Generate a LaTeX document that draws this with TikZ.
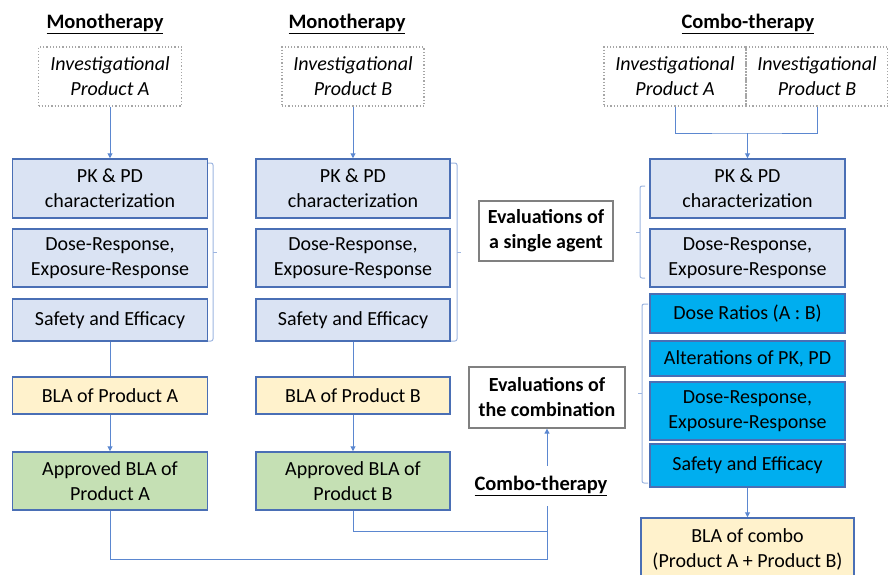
\documentclass[tikz,border=0pt]{standalone}
\usepackage{fontspec}
\setmainfont{Carlito}
\usetikzlibrary{arrows.meta}
\definecolor{bdr}{HTML}{4A6FB5}
\definecolor{lblue}{HTML}{DAE3F3}
\definecolor{cyanb}{HTML}{00AEEF}
\definecolor{yel}{HTML}{FFF2CC}
\definecolor{grn}{HTML}{C5E0B4}
\definecolor{conn}{HTML}{5B87D0}
\definecolor{brk}{HTML}{9DB5E0}
\tikzset{
  every node/.style={font=\fontsize{20}{25}\selectfont, align=center, inner sep=0pt},
  box/.style={draw=bdr, line width=1.5pt},
  pale/.style={box, fill=lblue},
  bright/.style={box, fill=cyanb},
  yelbox/.style={box, fill=yel},
  grnbox/.style={box, fill=grn},
  invbox/.style={draw=gray!70, dotted, line width=1.2pt, font=\fontsize{20}{25}\selectfont\itshape},
  evalbox/.style={draw=gray, line width=1.3pt, font=\fontsize{20}{25}\selectfont\bfseries},
  ttl/.style={font=\fontsize{20.5}{25}\selectfont\bfseries},
  conline/.style={draw=conn, line width=1pt},
  arr/.style={conline, -{Triangle[length=5pt,width=5pt]}},
  brace/.style={draw=brk, line width=1pt, rounded corners=2pt}
}
\begin{document}
\begin{tikzpicture}[x=1pt,y=-1pt]
\useasboundingbox (0,0) rectangle (888,574);
% titles
\node[ttl] (t1) at (105,24) {\underline{Monotherapy}};
\node[ttl] (t2) at (347,24) {\underline{Monotherapy}};
\node[ttl] (t3) at (748,24) {\underline{Combo-therapy}};
% investigational
\node[invbox, minimum width=143pt, minimum height=59pt] (invA) at (110,76.5) {Investigational\\Product A};
\node[invbox, minimum width=142pt, minimum height=59pt] (invB) at (353,76.5) {Investigational\\Product B};
\node[invbox, minimum width=142pt, minimum height=59pt] (cinvA) at (675,76.5) {Investigational\\Product A};
\node[invbox, minimum width=142pt, minimum height=59pt] (cinvB) at (817,76.5) {Investigational\\Product B};
% column A
\node[pale, minimum width=195pt, minimum height=59pt] (pkA) at (110,188.5) {PK \& PD\\characterization};
\node[pale, minimum width=195pt, minimum height=58pt] (drA) at (110,258) {Dose-Response,\\Exposure-Response};
\node[pale, minimum width=195pt, minimum height=42pt] (sfA) at (110,320) {Safety and Efficacy};
\node[yelbox, minimum width=195pt, minimum height=37pt] (blaA) at (110,395.5) {BLA of Product A};
\node[grnbox, minimum width=195pt, minimum height=58pt] (apA) at (110,481) {Approved BLA of\\Product A};
% column B
\node[pale, minimum width=194pt, minimum height=59pt] (pkB) at (353,188.5) {PK \& PD\\characterization};
\node[pale, minimum width=194pt, minimum height=58pt] (drB) at (353,258) {Dose-Response,\\Exposure-Response};
\node[pale, minimum width=194pt, minimum height=42pt] (sfB) at (353,320) {Safety and Efficacy};
\node[yelbox, minimum width=194pt, minimum height=37pt] (blaB) at (353,395.5) {BLA of Product B};
\node[grnbox, minimum width=194pt, minimum height=58pt] (apB) at (353,481) {Approved BLA of\\Product B};
% column C
\node[pale, minimum width=195pt, minimum height=59pt] (pkC) at (747.5,188.5) {PK \& PD\\characterization};
\node[pale, minimum width=195pt, minimum height=58pt] (drC) at (747.5,258) {Dose-Response,\\Exposure-Response};
\node[bright, minimum width=195pt, minimum height=39pt] (ratC) at (747.5,313.5) {Dose Ratios (A : B)};
\node[bright, minimum width=195pt, minimum height=35pt] (altC) at (747.5,358.5) {Alterations of PK, PD};
\node[bright, minimum width=195pt, minimum height=58pt] (dr2C) at (747.5,411) {Dose-Response,\\Exposure-Response};
\node[bright, minimum width=195pt, minimum height=43pt] (sfC) at (747.5,465.5) {Safety and Efficacy};
\node[yelbox, minimum width=213pt, minimum height=62pt] (blaC) at (747.5,549) {BLA of combo\\(Product A + Product B)};
% evaluation labels
\node[evalbox, minimum width=134pt, minimum height=60pt] (evs) at (546,231) {Evaluations of\\a single agent};
\node[evalbox, minimum width=156pt, minimum height=61pt] (evc) at (547,397.5) {Evaluations of\\the combination};
\node[ttl, minimum height=40pt] (ctl) at (541,486) {\underline{Combo-therapy}};
% connectors
\draw[arr] (invA) -- (pkA);
\draw[arr] (invB) -- (pkB);
\draw[conline] (sfA) -- (blaA);
\draw[conline] (sfB) -- (blaB);
\draw[arr] (blaA) -- (apA);
\draw[arr] (blaB) -- (apB);
\coordinate (cm) at (747.5,133);
\draw[conline] (cinvA.south) |- (cm) -| (cinvB.south);
\draw[arr] (cm) -- (pkC);
\draw[arr] (sfC) -- (blaC);
\coordinate (jA) at (547,559);
\coordinate (jB) at (547,531);
\draw[conline] (apA.south) |- (jA) -- (jA |- ctl.south);
\draw[conline] (apB.south) |- (jB);
\draw[arr] (ctl.north -| evc.south) -- (evc.south);
% braces
\draw[brace] (208,163) -- (213,163) -- (213,341) -- (208,341);
\draw[brace] (213,252) -- (217,252);
\draw[brace] (451,163) -- (457,163) -- (457,341) -- (451,341);
\draw[brace] (457,252) -- (461,252);
\draw[brace] (645,186) -- (640,186) -- (640,278) -- (645,278);
\draw[brace] (640,232) -- (636,232);
\draw[brace] (648,304) -- (642,304) -- (642,483) -- (648,483);
\draw[brace] (642,393) -- (638,393);
\end{tikzpicture}
\end{document}
